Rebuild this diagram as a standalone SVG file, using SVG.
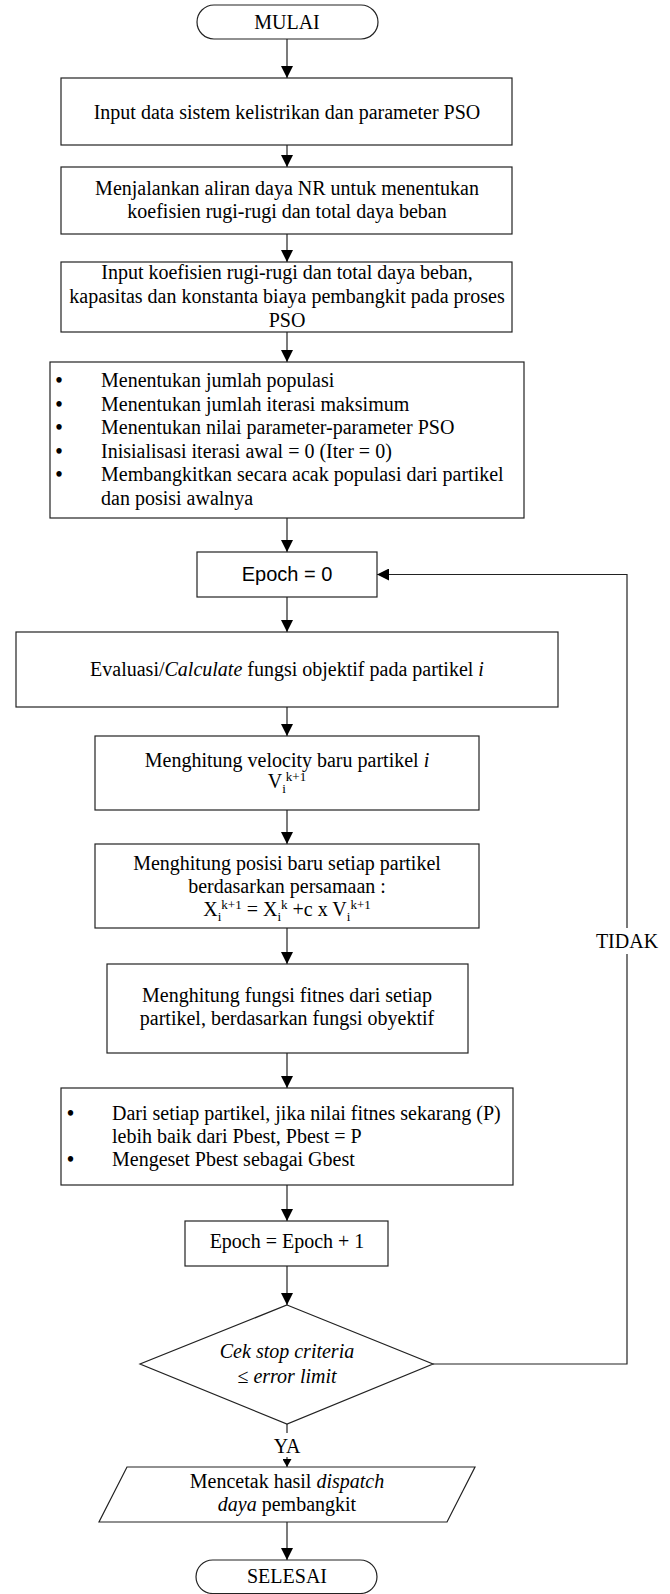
<svg xmlns="http://www.w3.org/2000/svg" width="670" height="1594" viewBox="0 0 670 1594">
<style>
.box{fill:#fff;stroke:#222;stroke-width:1.2}
.t{font-family:"Liberation Serif","Times New Roman",serif;font-size:20px;fill:#000}
.c{text-anchor:middle}
.s{font-family:"Liberation Sans",Arial,sans-serif}
.i{font-style:italic}
.sm{font-size:13px}
.b{font-weight:bold}
.conn{stroke:#222;stroke-width:1.2;fill:none}
</style>
<defs>
<marker id="ah" markerUnits="userSpaceOnUse" markerWidth="12" markerHeight="12" refX="12" refY="6" orient="auto">
<path d="M0,0 L12,6 L0,12 z" fill="#000"/>
</marker>
<marker id="ahs" markerUnits="userSpaceOnUse" markerWidth="8" markerHeight="9" refX="8" refY="4.5" orient="auto">
<path d="M0,0 L8,4.5 L0,9 z" fill="#000"/>
</marker>
</defs>
<rect width="670" height="1594" fill="#fff"/>

<g id="connectors">
<path class="conn" d="M287,39 V78" marker-end="url(#ah)"/>
<path class="conn" d="M287,145 V167" marker-end="url(#ah)"/>
<path class="conn" d="M287,234 V262" marker-end="url(#ah)"/>
<path class="conn" d="M287,332 V362" marker-end="url(#ah)"/>
<path class="conn" d="M287,518 V552" marker-end="url(#ah)"/>
<path class="conn" d="M287,597 V632" marker-end="url(#ah)"/>
<path class="conn" d="M287,707 V736" marker-end="url(#ah)"/>
<path class="conn" d="M287,810 V844" marker-end="url(#ah)"/>
<path class="conn" d="M287,928 V964" marker-end="url(#ah)"/>
<path class="conn" d="M287,1053 V1088" marker-end="url(#ah)"/>
<path class="conn" d="M287,1185 V1221" marker-end="url(#ah)"/>
<path class="conn" d="M287,1266 V1305" marker-end="url(#ah)"/>
<path class="conn" d="M287,1424 V1433"/>
<path class="conn" d="M287,1457 V1467" marker-end="url(#ahs)"/>
<path class="conn" d="M287,1522 V1560" marker-end="url(#ah)"/>
<path class="conn" d="M433,1364 H627 V954"/>
<path class="conn" d="M627,928 V574.5 H377" marker-end="url(#ah)"/>
<text class="t c" x="287" y="1453">YA</text>
<text class="t c" x="627" y="948">TIDAK</text>
</g>

<g id="mulai">
<rect class="box" x="197" y="5" width="181" height="34" rx="17"/>
<text class="t c" x="287" y="29">MULAI</text>
</g>

<g id="input-data">
<rect class="box" x="61" y="78" width="451" height="67"/>
<text class="t c" x="287" y="119">Input data sistem kelistrikan dan parameter PSO</text>
</g>

<g id="aliran-daya">
<rect class="box" x="61" y="167" width="451" height="67"/>
<text class="t c" x="287" y="195">Menjalankan aliran daya NR untuk menentukan</text>
<text class="t c" x="287" y="218">koefisien rugi-rugi dan total daya beban</text>
</g>

<g id="input-koefisien">
<rect class="box" x="61" y="262" width="451" height="70"/>
<text class="t c" x="287" y="279">Input koefisien rugi-rugi dan total daya beban,</text>
<text class="t c" x="287" y="303">kapasitas dan konstanta biaya pembangkit pada proses</text>
<text class="t c" x="287" y="327">PSO</text>
</g>

<g id="inisialisasi">
<rect class="box" x="50" y="362" width="474" height="156"/>
<text class="t c b" x="59" y="387">•</text>
<text class="t" x="101" y="387">Menentukan jumlah populasi</text>
<text class="t c b" x="59" y="410.5">•</text>
<text class="t" x="101" y="410.5">Menentukan jumlah iterasi maksimum</text>
<text class="t c b" x="59" y="434">•</text>
<text class="t" x="101" y="434">Menentukan nilai parameter-parameter PSO</text>
<text class="t c b" x="59" y="457.5">•</text>
<text class="t" x="101" y="457.5">Inisialisasi iterasi awal = 0 (Iter = 0)</text>
<text class="t c b" x="59" y="481">•</text>
<text class="t" x="101" y="481">Membangkitkan secara acak populasi dari partikel</text>
<text class="t" x="101" y="504.5">dan posisi awalnya</text>
</g>

<g id="epoch0">
<rect class="box" x="197" y="552" width="180" height="45"/>
<text class="t s c" x="287" y="581">Epoch = 0</text>
</g>

<g id="evaluasi">
<rect class="box" x="16" y="632" width="542" height="75"/>
<text class="t c" x="287" y="676">Evaluasi/<tspan class="i">Calculate</tspan> fungsi objektif pada partikel <tspan class="i">i</tspan></text>
</g>

<g id="velocity">
<rect class="box" x="95" y="736" width="384" height="74"/>
<text class="t c" x="287" y="767">Menghitung velocity baru partikel <tspan class="i">i</tspan></text>
<text class="t c" x="287" y="788">V<tspan class="sm" dy="5">i</tspan><tspan class="sm" dy="-12">k+1</tspan></text>
</g>

<g id="posisi">
<rect class="box" x="95" y="844" width="384" height="84"/>
<text class="t c" x="287" y="870">Menghitung posisi baru setiap partikel</text>
<text class="t c" x="287" y="893">berdasarkan persamaan :</text>
<text class="t c" x="287" y="916">X<tspan class="sm" dy="5">i</tspan><tspan class="sm" dy="-12">k+1</tspan><tspan dy="7"> = X</tspan><tspan class="sm" dy="5">i</tspan><tspan class="sm" dy="-12">k</tspan><tspan dy="7"> +c x V</tspan><tspan class="sm" dy="5">i</tspan><tspan class="sm" dy="-12">k+1</tspan></text>
</g>

<g id="fitnes">
<rect class="box" x="107" y="964" width="361" height="89"/>
<text class="t c" x="287" y="1002">Menghitung fungsi fitnes dari setiap</text>
<text class="t c" x="287" y="1025">partikel, berdasarkan fungsi obyektif</text>
</g>

<g id="pbest">
<rect class="box" x="61" y="1088" width="452" height="97"/>
<text class="t c b" x="70.5" y="1120">•</text>
<text class="t" x="112" y="1120">Dari setiap partikel, jika nilai fitnes sekarang (P)</text>
<text class="t" x="112" y="1143">lebih baik dari Pbest, Pbest = P</text>
<text class="t c b" x="70.5" y="1166">•</text>
<text class="t" x="112" y="1166">Mengeset Pbest sebagai Gbest</text>
</g>

<g id="epoch-inc">
<rect class="box" x="185" y="1221" width="203" height="45"/>
<text class="t c" x="287" y="1248">Epoch = Epoch + 1</text>
</g>

<g id="cek-stop">
<polygon class="box" points="287,1305 433,1364 287,1424 140,1364"/>
<text class="t c i" x="287" y="1358">Cek stop criteria</text>
<text class="t c" x="287" y="1383">≤ <tspan class="i">error limit</tspan></text>
</g>

<g id="cetak">
<polygon class="box" points="127,1467 475,1467 447,1522 99,1522"/>
<text class="t c" x="287" y="1488">Mencetak hasil <tspan class="i">dispatch</tspan></text>
<text class="t c" x="287" y="1511"><tspan class="i">daya</tspan> pembangkit</text>
</g>

<g id="selesai">
<rect class="box" x="196" y="1560" width="181" height="33.5" rx="16.75"/>
<text class="t c" x="287" y="1583">SELESAI</text>
</g>
</svg>
